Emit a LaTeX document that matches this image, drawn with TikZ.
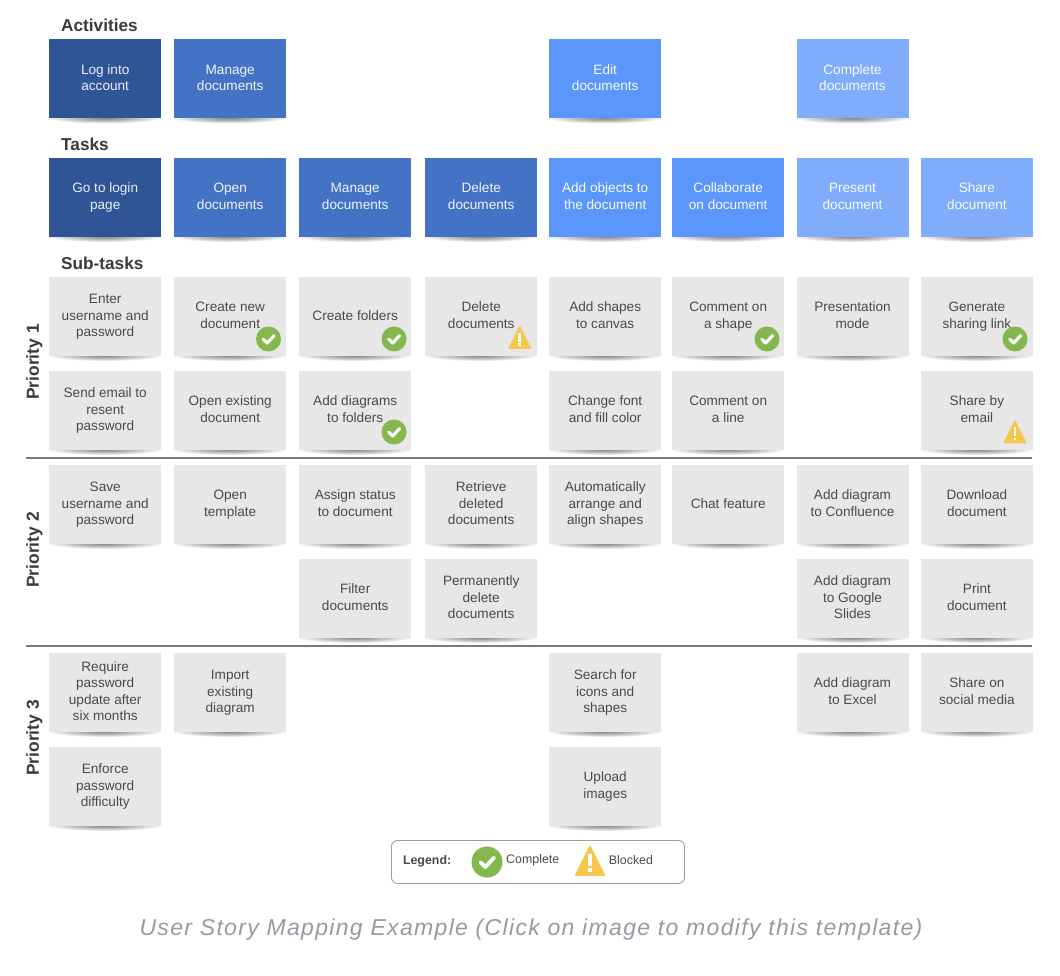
\documentclass[tikz,border=0pt]{standalone}
\usepackage{fontspec}
\setmainfont{Liberation Sans}
\definecolor{cdark}{HTML}{2F5597}
\definecolor{cmid}{HTML}{4472C4}
\definecolor{cblue}{HTML}{5B96FA}
\definecolor{clight}{HTML}{7FADFB}
\definecolor{cgray}{HTML}{E7E7E7}
\definecolor{cgrayt}{HTML}{4A4A4A}
\definecolor{cgreen}{HTML}{84B84F}
\definecolor{cyell}{HTML}{F7C64C}
\definecolor{chead}{HTML}{3A3A3A}
\definecolor{crule}{HTML}{7A7A7A}
\definecolor{ccap}{HTML}{959BA3}
\tikzset{
 x=1pt,y=-1pt,
 card/.style={anchor=north west,minimum width=112pt,minimum height=79pt,inner sep=0pt,font=\fontsize{13.6}{16.4}\selectfont},
 dark/.style={card,fill=cdark,text=white!90!cdark},
 mid/.style={card,fill=cmid,text=white!92!cmid},
 blue/.style={card,fill=cblue,text=white!95!cblue},
 light/.style={card,fill=clight,text=white!95!clight},
 sub/.style={card,fill=cgray,text=cgrayt},
 head/.style={anchor=west,inner sep=0pt,font=\fontsize{17.2}{19}\selectfont\bfseries,text=chead},
 prio/.style={rotate=90,inner sep=0pt,font=\fontsize{17.4}{19}\selectfont\bfseries,text=chead},
 sep/.style={draw=crule,line width=1.4pt},
 legendbox/.style={draw=black!38,line width=0.9pt,rounded corners=6pt,fill=white},
 legtext/.style={anchor=west,inner sep=0pt,font=\fontsize{12.4}{14}\selectfont,text=cgrayt},
}
\newcommand{\crd}[5]{%
 \foreach \k in {0,...,10}{%
  \fill[black,opacity=0.05] (#2+56,#3+78.5) ellipse [x radius={56-5*\k},y radius={5.5-0.45*\k}];}
 \node[#4] (#1) at (#2,#3-0.4) {\vbox{\kern1pt\hbox{\begin{tabular}{@{}c@{}}#5\end{tabular}}}};}
\newcommand{\okicon}[4]{% name x y r
 \node[circle,fill=cgreen,minimum size=2*#4 pt,inner sep=0pt] (#1) at (#2,#3) {};
 \draw[white,line width=#4*0.25pt,line cap=round,line join=round] (#2-0.42*#4,#3+0.02*#4) -- (#2-0.1*#4,#3+0.32*#4) -- (#2+0.45*#4,#3-0.28*#4);}
\newcommand{\warnicon}[4]{% name x y r
 \coordinate (#1) at (#2,#3);
 \fill[cyell,draw=cyell,line width=#4*0.15pt,line join=round] (#2,#3-1.0*#4) -- (#2+#4*0.96,#3+0.92*#4) -- (#2-#4*0.96,#3+0.92*#4) -- cycle;
 \fill[white] (#2-0.12*#4,#3-0.5*#4) rectangle (#2+0.12*#4,#3+0.32*#4);
 \fill[white] (#2-0.12*#4,#3+0.46*#4) rectangle (#2+0.12*#4,#3+0.72*#4);}
\begin{document}
\begin{tikzpicture}
\useasboundingbox (0,0) rectangle (1060,976);
\fill[white] (0,0) rectangle (1060,976);
\node[head] (hact) at (61,25) {Activities};
\node[head] (htask) at (61,144) {Tasks};
\node[head] (hsub) at (61,263) {Sub-tasks};
% Activities
\crd{a1}{49}{39.5}{dark}{Log into\\account}
\crd{a2}{174}{39.5}{mid}{Manage\\documents}
\crd{a3}{549}{39.5}{blue}{Edit\\documents}
\crd{a4}{796.3}{39.5}{light}{Complete\\documents}
% Tasks
\crd{t1}{49}{158}{dark}{Go to login\\page}
\crd{t2}{174}{158}{mid}{Open\\documents}
\crd{t3}{299}{158}{mid}{Manage\\documents}
\crd{t4}{425}{158}{mid}{Delete\\documents}
\crd{t5}{549}{158}{blue}{Add objects to\\the document}
\crd{t6}{672}{158}{blue}{Collaborate\\on document}
\crd{t7}{796.3}{158}{light}{Present\\document}
\crd{t8}{920.7}{158}{light}{Share\\document}
% Priority 1
\crd{p11}{49}{277}{sub}{Enter\\username and\\password}
\crd{p12}{174}{277}{sub}{Create new\\document}
\crd{p13}{299}{277}{sub}{Create folders}
\crd{p14}{425}{277}{sub}{Delete\\documents}
\crd{p15}{549}{277}{sub}{Add shapes\\to canvas}
\crd{p16}{672}{277}{sub}{Comment on\\a shape}
\crd{p17}{796.3}{277}{sub}{Presentation\\mode}
\crd{p18}{920.7}{277}{sub}{Generate\\sharing link}
\crd{q11}{49}{371}{sub}{Send email to\\resent\\password}
\crd{q12}{174}{371}{sub}{Open existing\\document}
\crd{q13}{299}{371}{sub}{Add diagrams\\to folders}
\crd{q15}{549}{371}{sub}{Change font\\and fill color}
\crd{q16}{672}{371}{sub}{Comment on\\a line}
\crd{q18}{920.7}{371}{sub}{Share by\\email}
% Priority 2
\crd{p21}{49}{465}{sub}{Save\\username and\\password}
\crd{p22}{174}{465}{sub}{Open\\template}
\crd{p23}{299}{465}{sub}{Assign status\\to document}
\crd{p24}{425}{465}{sub}{Retrieve\\deleted\\documents}
\crd{p25}{549}{465}{sub}{Automatically\\arrange and\\align shapes}
\crd{p26}{672}{465}{sub}{Chat feature}
\crd{p27}{796.3}{465}{sub}{Add diagram\\to Confluence}
\crd{p28}{920.7}{465}{sub}{Download\\document}
\crd{q23}{299}{559}{sub}{Filter\\documents}
\crd{q24}{425}{559}{sub}{Permanently\\delete\\documents}
\crd{q27}{796.3}{559}{sub}{Add diagram\\to Google\\Slides}
\crd{q28}{920.7}{559}{sub}{Print\\document}
% Priority 3
\crd{p31}{49}{653}{sub}{Require\\password\\update after\\six months}
\crd{p32}{174}{653}{sub}{Import\\existing\\diagram}
\crd{p35}{549}{653}{sub}{Search for\\icons and\\shapes}
\crd{p37}{796.3}{653}{sub}{Add diagram\\to Excel}
\crd{p38}{920.7}{653}{sub}{Share on\\social media}
\crd{q31}{49}{747}{sub}{Enforce\\password\\difficulty}
\crd{q35}{549}{747}{sub}{Upload\\images}
% Separators
\coordinate (s1a) at (26,458); \coordinate (s1b) at (1032,458);
\coordinate (s2a) at (26,646); \coordinate (s2b) at (1032,646);
\draw[sep] (s1a) -- (s1b);
\draw[sep] (s2a) -- (s2b);
\node[prio] (l1) at (34.5,362) {Priority 1};
\node[prio] (l2) at (34.5,550) {Priority 2};
\node[prio] (l3) at (34.5,738) {Priority 3};
% Status icons
\okicon{o1}{268.5}{339}{12.5}
\okicon{o2}{394}{339}{12.5}
\okicon{o3}{394}{432}{12.5}
\okicon{o4}{767}{339}{12.5}
\okicon{o5}{1015}{339}{12.5}
\warnicon{w1}{519.8}{338}{11}
\warnicon{w2}{1015}{432.5}{11}
% Legend
\node[legendbox,anchor=north west,minimum width=293pt,minimum height=43pt,inner sep=0pt] (legend) at (391,840) {};
\node[anchor=west,inner sep=0pt,font=\fontsize{12.4}{14}\selectfont\bfseries,text=cgrayt] (ltitle) at (402.8,861) {Legend:};
\okicon{lo}{487}{862}{15.5}
\node[legtext] (lc) at (506,860.5) {Complete};
\warnicon{lw}{590}{861.5}{14.5}
\node[legtext] (lb) at (608.7,860.5) {Blocked};
% Caption
\node[font=\fontsize{23}{26}\selectfont\itshape\addfontfeature{LetterSpace=5.8},text=ccap] (cap) at (531,930) {User Story Mapping Example (Click on image to modify this template)};
\end{tikzpicture}
\end{document}
